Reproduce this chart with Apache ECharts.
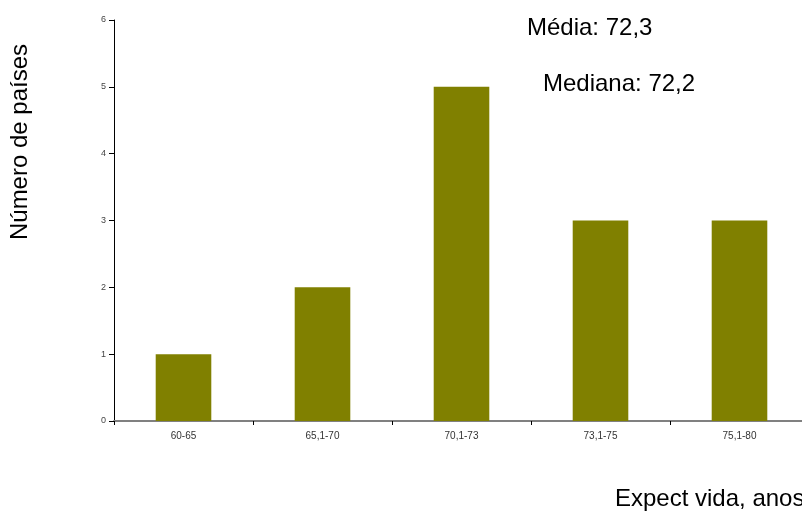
<!DOCTYPE html>
<html><head><meta charset="utf-8">
<script src="https://cdn.jsdelivr.net/npm/echarts@6/dist/echarts.min.js"></script>
<style>html,body{margin:0;padding:0;background:#fff}#c{width:802px;height:514px}</style>
</head><body><div id="c"></div>
<script>
const categories = ['60-65', '65,1-70', '70,1-73', '73,1-75', '75,1-80'];
const counts = [1, 2, 5, 3, 3];
const yTicks = [0, 1, 2, 3, 4, 5, 6];
const chart = echarts.init(document.getElementById('c'), null, {renderer: 'canvas'});
chart.setOption({
  animation: false,
  backgroundColor: '#fff',
  grid: {left: 114, width: 695, top: 20, bottom: 93, containLabel: false, outerBoundsMode: 'none'},
  xAxis: {
    type: 'category', data: categories,
    axisLine: {lineStyle: {color: '#808080', width: 2}},
    axisTick: {show: true, alignWithLabel: false, length: 4, lineStyle: {color: '#000'}},
    axisLabel: {fontFamily: 'Liberation Sans, Arial', fontSize: 10, color: '#333', margin: 10}
  },
  yAxis: {
    type: 'value', min: yTicks[0], max: yTicks[yTicks.length - 1], interval: 1,
    axisLine: {show: true, lineStyle: {color: '#000', width: 1}},
    axisTick: {show: true, length: 5, lineStyle: {color: '#000'}},
    splitLine: {show: false},
    axisLabel: {fontFamily: 'Liberation Sans, Arial', fontSize: 9, color: '#444', margin: 8}
  },
  series: [{
    type: 'bar', data: counts, barWidth: '40%',
    itemStyle: {color: '#808000'}
  }],
  graphic: [
    {type: 'text', left: 527, top: 16, style: {text: 'Média: 72,3', font: '24px "Liberation Sans", Arial', fill: '#000'}},
    {type: 'text', left: 543, top: 72, style: {text: 'Mediana: 72,2', font: '24px "Liberation Sans", Arial', fill: '#000'}},
    {type: 'text', left: 615, top: 487, style: {text: 'Expect vida, anos', font: '24px "Liberation Sans", Arial', fill: '#000'}},
    {type: 'text', x: 20, y: 142, rotation: Math.PI / 2,
     style: {text: 'Número de países', font: '24px "Liberation Sans", Arial', fill: '#000', align: 'center', verticalAlign: 'middle'}}
  ]
});
</script></body></html>
